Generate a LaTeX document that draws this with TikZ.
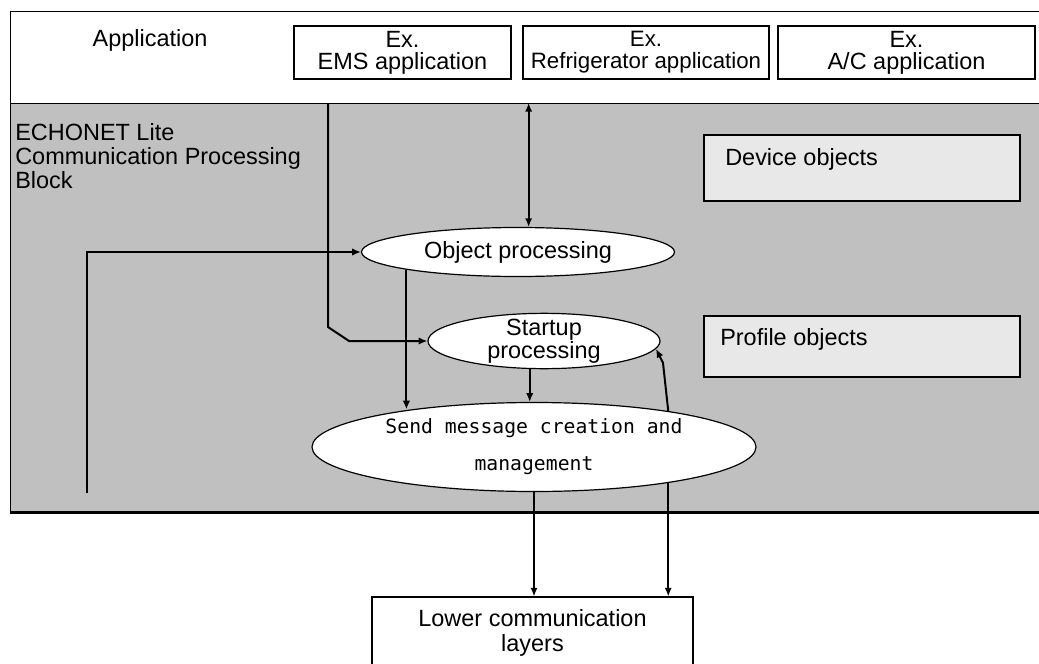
\documentclass[tikz,border=0pt]{standalone}
\usepackage{fontspec}
\setmainfont{Liberation Sans}
\newfontfamily\gothfont{DejaVu Sans Mono}
\usetikzlibrary{shapes,arrows.meta,positioning,calc}
\definecolor{elgris}{RGB}{192,192,192}
\definecolor{elclair}{RGB}{232,232,232}

\begin{document}
\begin{tikzpicture}[x=0.75pt, y=-0.75pt,
  zone/.style={rectangle, draw=black, anchor=north west, inner sep=0pt,
    minimum width=776.25pt},
  appbox/.style={rectangle, draw=black, fill=white, line width=0.8pt,
    minimum height=39.75pt, inner sep=1pt, align=center,
    font=\fontsize{17.6}{16.5}\selectfont},
  proc/.style={ellipse, draw=black, fill=white, line width=0.9pt,
    inner sep=0pt, align=center, font=\fontsize{17.6}{12.75}\selectfont},
  objbox/.style={rectangle, draw=black, fill=elclair, line width=0.8pt,
    minimum width=237pt},
  lbl/.style={inner sep=0pt, font=\fontsize{17.6}{18}\selectfont},
  arr/.style={-{Latex[length=6.5pt,width=5.5pt]}, line width=1.5pt},
  darr/.style={{Latex[length=6.5pt,width=5.5pt]}-{Latex[length=6.5pt,width=5.5pt]},
    line width=1.5pt}
]
  \clip (0,0) rectangle (1039,664);

  % Application layer
  \node[zone, fill=white, line width=1.1pt, minimum height=69pt] (app) at (10,11) {};
  \node[lbl, anchor=base] (apptxt) at (150,46) {Application};
  \node[appbox, minimum width=162.75pt] (ems) at (402.5,52.5) {Ex.\\EMS application};
  \node[appbox, minimum width=184.5pt, font=\fontsize{16.7}{16.5}\selectfont]
    (frig) at (646,52.5) {Ex.\\Refrigerator application};
  \node[appbox, minimum width=192.75pt] (ac) at (906.5,52.5) {Ex.\\A/C application};

  % ECHONET Lite block
  \node[zone, fill=elgris, line width=1.1pt, minimum height=306pt] (blk) at (10,103) {};
  \draw[line width=2.2pt] (blk.south west) -- (blk.south east);
  \node[lbl, anchor=north west, align=left] (blktxt) at (15,123)
    {ECHONET Lite\\Communication Processing\\Block};

  % Objects
  \node[objbox, minimum height=49.5pt] (dev) at (862,168) {};
  \node[lbl, anchor=base west] (devtxt) at (725,165) {Device objects};
  \node[objbox, minimum height=45.75pt] (prof) at (862,346.5) {};
  \node[lbl, anchor=base west] (proftxt) at (720,345) {Profile objects};

  % Processing
  \node[proc, minimum width=234.75pt, minimum height=36.75pt] (obj) at (518,252)
    {Object processing};
  \node[proc, minimum width=174pt, minimum height=36pt, inner ysep=-2pt] (start)
    at (544,341) {Startup\\processing};
  \node[proc, minimum width=333pt, minimum height=66.75pt,
    font=\gothfont\fontsize{14.8}{27.75}\selectfont] (send) at (534,447)
    {Send message creation and\\management};

  % Lower layers
  \node[rectangle, draw=black, fill=white, line width=0.8pt, minimum width=240.75pt,
    minimum height=54pt, align=center, font=\fontsize{17.6}{18.75}\selectfont]
    (low) at (532.5,633) {Lower communication\\layers};

  % Connections
  \coordinate (emsdrop) at (328,327);
  \coordinate (emsbend) at (349,341);
  \coordinate (lftfoot) at (87,493);
  \coordinate (sendup) at (663,363);
  \draw[darr] (blk.north -| obj.67.75) -- (obj.67.75);
  \draw[arr] (blk.north -| emsdrop) -- (emsdrop) -- (emsbend) -- (start.west);
  \draw[arr] (lftfoot) |- (obj.west);
  \draw[arr] (obj.189.7) -- (obj.189.7 |- send.163);
  \draw[arr] (start.243.3) -- (start.243.3 |- send.north);
  \draw[arr] (send.15.7) -- (sendup) -- (start.-4);
  \draw[arr] (send.south) -- (send.south |- low.north);
  \draw[arr] (send.-15.7) -- (send.-15.7 |- low.north);
\end{tikzpicture}
\end{document}
